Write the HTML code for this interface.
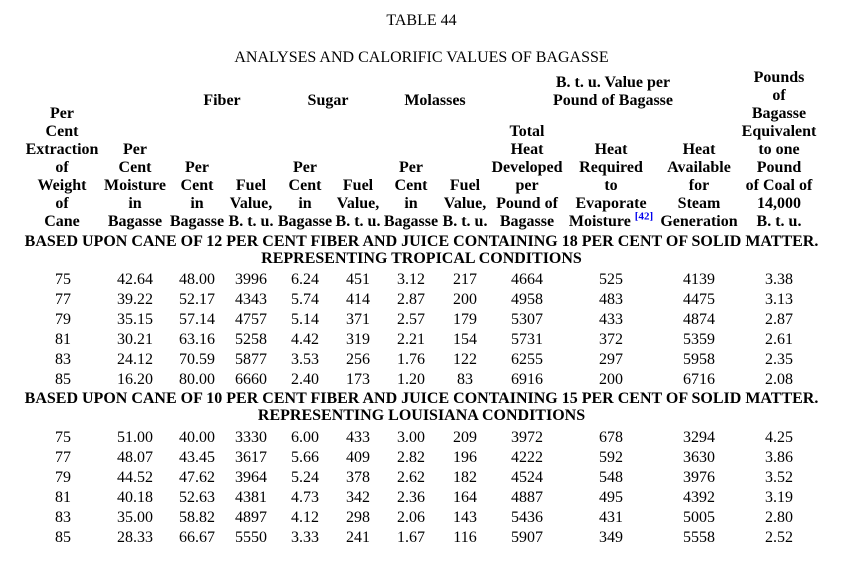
<!DOCTYPE html>
<html><head><meta charset="utf-8"><style>
body{margin:0;width:849px;height:562px;background:#fff;position:relative;overflow:hidden;font-family:"Liberation Serif",serif;font-size:16px;color:#000}
div{position:absolute;text-align:center;line-height:18px;white-space:nowrap}
.h{font-weight:bold;width:130px}
.c{width:90px;line-height:20px}
.w{left:0;width:843px}
.b{font-weight:bold}
sup{color:#00e;font-size:11px;line-height:0}
</style></head><body>
<div class="w" style="top:12px">TABLE 44</div>
<div class="w" style="top:49px">ANALYSES AND CALORIFIC VALUES OF BAGASSE</div>

<div class="h" style="left:157px;top:92px">Fiber</div>
<div class="h" style="left:263px;top:92px">Sugar</div>
<div class="h" style="left:370px;top:92px">Molasses</div>
<div class="h" style="left:518px;top:74px;width:190px">B. t. u. Value per<br>Pound of Bagasse</div>

<div class="h" style="left:-3px;bottom:331px">Per<br>Cent<br>Extraction<br>of<br>Weight<br>of<br>Cane</div>
<div class="h" style="left:70px;bottom:331px">Per<br>Cent<br>Moisture<br>in<br>Bagasse</div>
<div class="h" style="left:132px;bottom:331px">Per<br>Cent<br>in<br>Bagasse</div>
<div class="h" style="left:186px;bottom:331px">Fuel<br>Value,<br>B. t. u.</div>
<div class="h" style="left:240px;bottom:331px">Per<br>Cent<br>in<br>Bagasse</div>
<div class="h" style="left:293px;bottom:331px">Fuel<br>Value,<br>B. t. u.</div>
<div class="h" style="left:346px;bottom:331px">Per<br>Cent<br>in<br>Bagasse</div>
<div class="h" style="left:400px;bottom:331px">Fuel<br>Value,<br>B. t. u.</div>
<div class="h" style="left:462px;bottom:331px">Total<br>Heat<br>Developed<br>per<br>Pound of<br>Bagasse</div>
<div class="h" style="left:546px;bottom:331px">Heat<br>Required<br>to<br>Evaporate<br>Moisture <sup>[42]</sup></div>
<div class="h" style="left:634px;bottom:331px">Heat<br>Available<br>for<br>Steam<br>Generation</div>
<div class="h" style="left:714px;bottom:331px">Pounds<br>of<br>Bagasse<br>Equivalent<br>to one<br>Pound<br>of Coal of<br>14,000<br>B. t. u.</div>

<div class="w b" style="top:233px">BASED UPON CANE OF 12 PER CENT FIBER AND JUICE CONTAINING 18 PER CENT OF SOLID MATTER.</div>
<div class="w b" style="top:250px">REPRESENTING TROPICAL CONDITIONS</div>
<div class="w b" style="top:390px">BASED UPON CANE OF 10 PER CENT FIBER AND JUICE CONTAINING 15 PER CENT OF SOLID MATTER.</div>
<div class="w b" style="top:407px">REPRESENTING LOUISIANA CONDITIONS</div>

<div class="c" style="left:18px;top:270px">75<br>77<br>79<br>81<br>83<br>85</div>
<div class="c" style="left:90px;top:270px">42.64<br>39.22<br>35.15<br>30.21<br>24.12<br>16.20</div>
<div class="c" style="left:152px;top:270px">48.00<br>52.17<br>57.14<br>63.16<br>70.59<br>80.00</div>
<div class="c" style="left:206px;top:270px">3996<br>4343<br>4757<br>5258<br>5877<br>6660</div>
<div class="c" style="left:260px;top:270px">6.24<br>5.74<br>5.14<br>4.42<br>3.53<br>2.40</div>
<div class="c" style="left:313px;top:270px">451<br>414<br>371<br>319<br>256<br>173</div>
<div class="c" style="left:366px;top:270px">3.12<br>2.87<br>2.57<br>2.21<br>1.76<br>1.20</div>
<div class="c" style="left:420px;top:270px">217<br>200<br>179<br>154<br>122<br>83</div>
<div class="c" style="left:482px;top:270px">4664<br>4958<br>5307<br>5731<br>6255<br>6916</div>
<div class="c" style="left:566px;top:270px">525<br>483<br>433<br>372<br>297<br>200</div>
<div class="c" style="left:654px;top:270px">4139<br>4475<br>4874<br>5359<br>5958<br>6716</div>
<div class="c" style="left:734px;top:270px">3.38<br>3.13<br>2.87<br>2.61<br>2.35<br>2.08</div>

<div class="c" style="left:18px;top:428px">75<br>77<br>79<br>81<br>83<br>85</div>
<div class="c" style="left:90px;top:428px">51.00<br>48.07<br>44.52<br>40.18<br>35.00<br>28.33</div>
<div class="c" style="left:152px;top:428px">40.00<br>43.45<br>47.62<br>52.63<br>58.82<br>66.67</div>
<div class="c" style="left:206px;top:428px">3330<br>3617<br>3964<br>4381<br>4897<br>5550</div>
<div class="c" style="left:260px;top:428px">6.00<br>5.66<br>5.24<br>4.73<br>4.12<br>3.33</div>
<div class="c" style="left:313px;top:428px">433<br>409<br>378<br>342<br>298<br>241</div>
<div class="c" style="left:366px;top:428px">3.00<br>2.82<br>2.62<br>2.36<br>2.06<br>1.67</div>
<div class="c" style="left:420px;top:428px">209<br>196<br>182<br>164<br>143<br>116</div>
<div class="c" style="left:482px;top:428px">3972<br>4222<br>4524<br>4887<br>5436<br>5907</div>
<div class="c" style="left:566px;top:428px">678<br>592<br>548<br>495<br>431<br>349</div>
<div class="c" style="left:654px;top:428px">3294<br>3630<br>3976<br>4392<br>5005<br>5558</div>
<div class="c" style="left:734px;top:428px">4.25<br>3.86<br>3.52<br>3.19<br>2.80<br>2.52</div>
</body></html>
